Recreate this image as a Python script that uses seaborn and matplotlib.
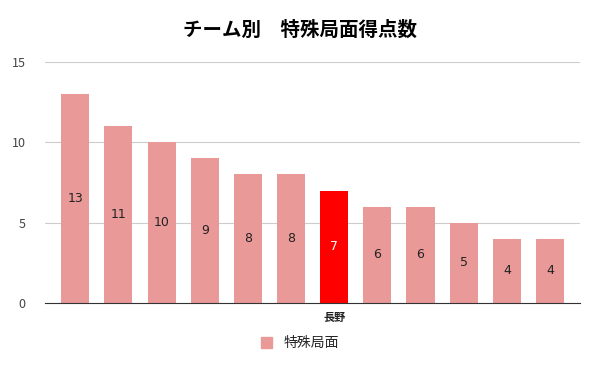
import numpy as np
import pandas as pd
import seaborn as sns
import matplotlib
matplotlib.use("Agg")
import matplotlib.pyplot as plt
from matplotlib.patches import Patch

# データ
teams = ["", "", "", "", "", "", "長野", "", "", "", "", ""]
scores = [13, 11, 10, 9, 8, 8, 7, 6, 6, 5, 4, 4]
series_name = "特殊局面"
title = "チーム別　特殊局面得点数"

df = pd.DataFrame({"pos": [str(i) for i in range(len(scores))], "score": scores})
colors = ["#ff0000" if t == "長野" else "#ea9999" for t in teams]

sns.set_style("white")
plt.rcParams["font.family"] = ["Noto Sans CJK JP", "DejaVu Sans"]

fig = plt.figure(figsize=(6, 3.71), dpi=100)
ax = fig.add_axes([0.075, 0.183, 0.892, 0.65])

sns.barplot(data=df, x="pos", y="score", hue="pos", palette=colors,
            legend=False, width=0.65, saturation=1, linewidth=0, ax=ax)

ax.set_ylim(0, 15)
ax.set_yticks([0, 5, 10, 15])
ax.yaxis.grid(True, color="#cccccc", linewidth=0.8)
ax.set_axisbelow(True)
for s in ["top", "right", "left"]:
    ax.spines[s].set_visible(False)
ax.spines["bottom"].set_color("#333333")
ax.set_xlim(-0.7, len(scores) - 0.3)
ax.set_xticks(range(len(teams)))
ax.set_xticklabels(teams, fontsize=8, fontweight="bold", color="#222222")
ax.tick_params(axis="y", labelsize=9, colors="#444444", length=0, pad=14)
ax.tick_params(axis="x", length=0, pad=6)
ax.set_xlabel("")
ax.set_ylabel("")

for i, v in enumerate(scores):
    ax.text(i, v / 2, str(v), ha="center", va="center", fontsize=9,
            color="white" if teams[i] == "長野" else "#222222",
            family=["DejaVu Sans"])

fig.suptitle(title, x=0.5, y=0.945, fontsize=14, fontweight="bold", color="black")
fig.legend(handles=[Patch(color="#ea9999", label=series_name)],
           loc="center", bbox_to_anchor=(0.5, 0.075), frameon=False,
           fontsize=10, handlelength=0.8, handleheight=0.8)

fig.savefig("out.png", dpi=100)
